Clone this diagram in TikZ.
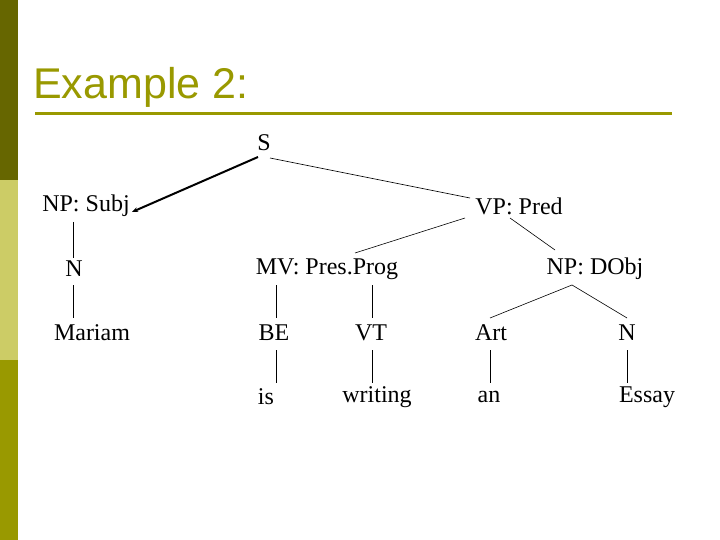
\documentclass[tikz,border=0pt]{standalone}
\usepackage{fontspec}
\usetikzlibrary{arrows.meta}
\setmainfont{Liberation Serif}
\newfontfamily\titlefont{Liberation Sans}
\definecolor{olive1}{HTML}{666600}
\definecolor{olive2}{HTML}{CCCC66}
\definecolor{olive3}{HTML}{999900}
\begin{document}
\begin{tikzpicture}[x=1pt,y=-1pt,
  lab/.style={font=\fontsize{24}{26}\selectfont,inner sep=0pt},
  br/.style={line width=0.6pt}]
\useasboundingbox (0,0) rectangle (720,540);
\fill[white] (0,0) rectangle (720,540);
\fill[olive1] (0,0) rectangle (18,180);
\fill[olive2] (0,180) rectangle (18,360);
\fill[olive3] (0,360) rectangle (18,540);
\node[anchor=base west,inner sep=0pt,text=olive3,font=\titlefont\fontsize{43}{45}\selectfont] (title) at (33,99) {Example 2:};
\draw[olive3,line width=3pt] (35,114) coordinate (ul1) -- (672,114) coordinate (ul2);
\node[lab] (S) at (264,143) {S};
\node[lab] (np) at (86,206) {NP: Subj};
\node[lab] (vp) at (519,206) {VP: Pred};
\node[lab] (n1) at (74,269) {N};
\node[lab] (mv) at (327,269) {MV: Pres.Prog};
\node[lab] (npd) at (595,269) {NP: DObj};
\node[lab] (mar) at (92,333) {Mariam};
\node[lab] (be) at (274,333) {BE};
\node[lab] (vt) at (371,333) {VT};
\node[lab] (art) at (491,333) {Art};
\node[lab] (n2) at (627,333) {N};
\node[lab] (is) at (266,397) {is};
\node[lab] (wr) at (377,397) {writing};
\node[lab] (an) at (489,397) {an};
\node[lab] (es) at (647,397) {Essay};
\draw[line width=2pt,-{Stealth[length=6pt,width=5pt]}] (258,157) -- (132,212);
\draw[br] (270,158) -- (470,198);
\draw[br] (465,218) -- (355,253);
\draw[br] (510,218) -- (555,250);
\draw[br] (73,222) -- (73,258);
\draw[br] (73,285) -- (73,318);
\draw[br] (276,285) -- (276,318);
\draw[br] (372,285) -- (372,318);
\draw[br] (276,350) -- (276,383);
\draw[br] (372,350) -- (372,383);
\draw[br] (572,285) -- (490,318);
\draw[br] (572,285) -- (627,318);
\draw[br] (490,350) -- (490,383);
\draw[br] (627,350) -- (627,383);
\end{tikzpicture}
\end{document}
